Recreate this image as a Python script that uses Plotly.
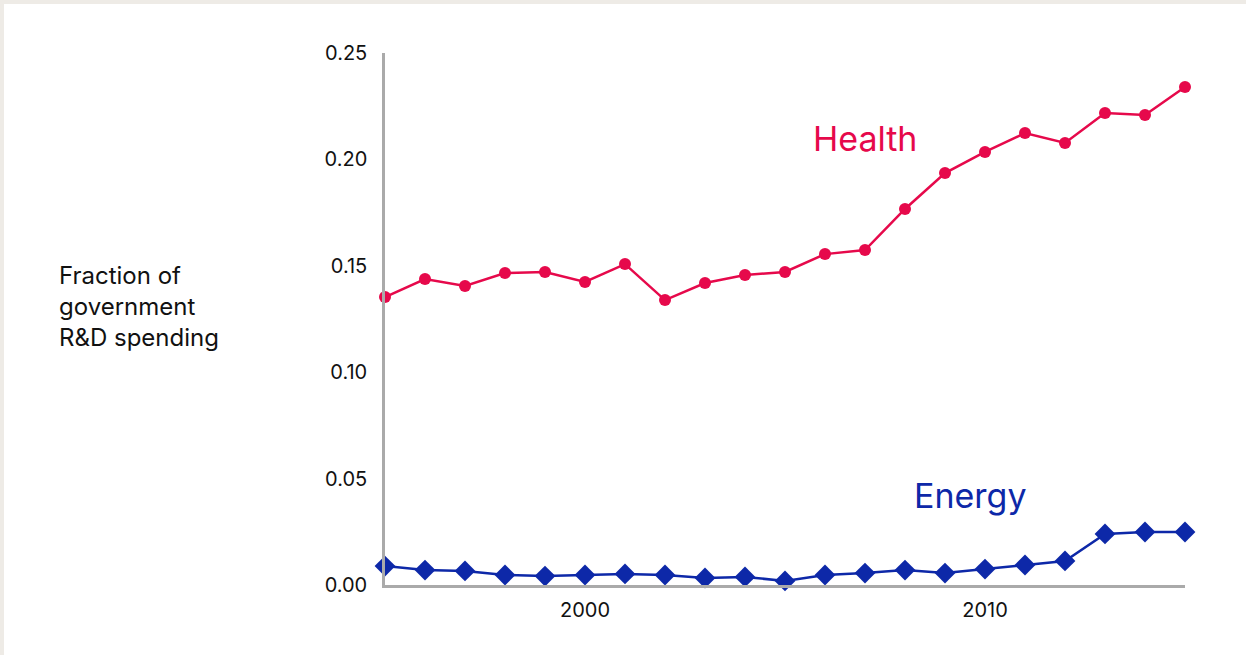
import plotly.graph_objects as go

years = list(range(1995, 2016))
health = [0.1353, 0.1438, 0.1405, 0.1466, 0.1471, 0.1424, 0.1508, 0.1339, 0.1419, 0.1457,
          0.1471, 0.1555, 0.1574, 0.1767, 0.1936, 0.2035, 0.2124, 0.2077, 0.2218, 0.2209, 0.2340]
energy = [0.0089, 0.0070, 0.0066, 0.0047, 0.0042, 0.0047, 0.0052, 0.0047, 0.0033, 0.0038,
          0.0019, 0.0047, 0.0056, 0.0070, 0.0056, 0.0075, 0.0094, 0.0113, 0.0240, 0.0249, 0.0249]
y_ticks = [0.0, 0.05, 0.10, 0.15, 0.20, 0.25]
y_tick_labels = ["0.00", "0.05", "0.10", "0.15", "0.20", "0.25"]
x_ticks = [2000, 2010]

RED = "#e6094b"
BLUE = "#0d28a8"
FONT = "Inter"

W, H = 1246, 655
L, R, T, B = 385, 61, 53, 70

fig = go.Figure()
fig.add_trace(go.Scatter(x=years, y=health, mode="lines+markers", name="Health",
                         line=dict(color=RED, width=2.5),
                         marker=dict(color=RED, size=12, symbol="circle"),
                         cliponaxis=False))
fig.add_trace(go.Scatter(x=years, y=energy, mode="lines+markers", name="Energy",
                         line=dict(color=BLUE, width=2.5),
                         marker=dict(color=BLUE, size=16, symbol="diamond"),
                         cliponaxis=False))

pw = W - L - R
ph = H - T - B
def px_x(p):
    return (p - L) / pw
def px_y(p):
    return (H - B - p) / ph

fig.add_shape(type="rect", xref="paper", yref="paper",
              x0=px_x(4), x1=px_x(W + 10), y0=px_y(H + 10), y1=px_y(4),
              fillcolor="white", line=dict(width=0), layer="below")

fig.add_annotation(text="Health", xref="paper", yref="paper", x=px_x(865), y=px_y(138),
                   xanchor="center", yanchor="middle", showarrow=False,
                   font=dict(family=FONT, size=34, color=RED))
fig.add_annotation(text="Energy", xref="paper", yref="paper", x=px_x(970), y=px_y(496),
                   xanchor="center", yanchor="middle", showarrow=False,
                   font=dict(family=FONT, size=34, color=BLUE))
fig.add_annotation(text="Fraction of<br>government<br>R&D spending",
                   xref="paper", yref="paper", x=px_x(57), y=px_y(306),
                   xanchor="left", yanchor="middle", align="left", showarrow=False,
                   font=dict(family=FONT, size=24, color="#111111"))

fig.update_layout(
    width=W, height=H,
    margin=dict(l=L, r=R, t=T, b=B),
    paper_bgcolor="#eeebe6",
    plot_bgcolor="rgba(0,0,0,0)",
    showlegend=False,
    font=dict(family=FONT, size=20, color="#111111"),
    xaxis=dict(range=[1995, 2015], tickvals=x_ticks, showgrid=False, zeroline=False,
               showline=True, linecolor="#aaaaaa", linewidth=2.5, ticks="",
               ticklabelstandoff=5, tickfont=dict(family=FONT, size=20)),
    yaxis=dict(range=[0, 0.25], tickvals=y_ticks, ticktext=y_tick_labels, showgrid=False,
               zeroline=False, showline=True, linecolor="#aaaaaa", linewidth=2.5, ticks="",
               ticklabelstandoff=11, tickfont=dict(family=FONT, size=20)),
)

fig.write_html("out.html", config={"displayModeBar": False},
               post_script="document.body.style.margin='0';")
